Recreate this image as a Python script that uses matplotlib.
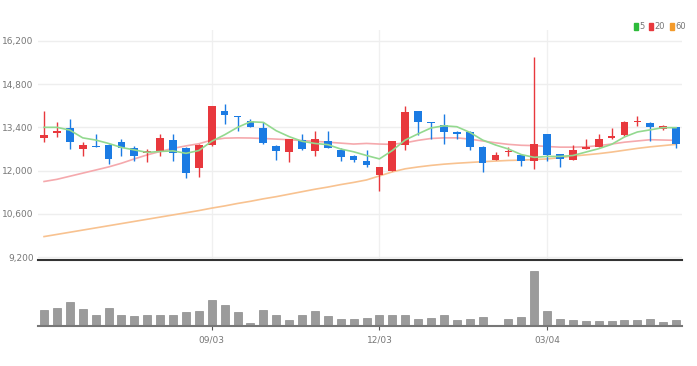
import numpy as np
import matplotlib.pyplot as plt
from matplotlib.patches import Patch

# weekly candles, red = up, blue = down
opens = [13050, 13210, 13380, 12700, 12810, 12830, 12940, 12720, 12560, 12610,
         12990, 12720, 12090, 12840, 13940, 13780, 13620, 13380, 12810, 12590,
         12990, 12630, 12970, 12670, 12490, 12320, 11870, 12000, 12830, 13920,
         13560, 13490, 13260, 13240, 12780, 12350, 12590, 12520, 12320, 13190,
         12540, 12350, 12700, 12780, 13050, 13160, 13570, 13530, 13350, 13400]
highs = [13940, 13560, 13670, 12920, 13190, 12860, 13020, 12810, 12700, 13190,
         13190, 12750, 12860, 14100, 14150, 13780, 13670, 13580, 12840, 13020,
         13190, 13290, 13290, 12730, 12520, 12670, 12110, 12970, 14100, 13940,
         13560, 13830, 13270, 13270, 12810, 12590, 12780, 12520, 15670, 13190,
         12540, 12820, 13020, 13190, 13380, 13620, 13760, 13580, 13490, 13420]
lows = [12920, 13080, 12700, 12490, 12750, 12220, 12490, 12300, 12270, 12490,
        12320, 11760, 11810, 12810, 13510, 13270, 13400, 12860, 12350, 12270,
        12670, 12490, 12730, 12300, 12270, 12110, 11350, 12000, 12670, 13160,
        13020, 12860, 13020, 12670, 11950, 12350, 12490, 12160, 12050, 12320,
        12110, 12350, 12700, 12750, 13020, 13130, 13450, 12970, 13330, 12730]
closes = [13150, 13290, 12940, 12830, 12760, 12380, 12730, 12490, 12630, 13050,
          12560, 11910, 12830, 14080, 13810, 13720, 13400, 12880, 12630, 13020,
          12700, 13020, 12730, 12430, 12360, 12190, 12110, 12950, 13890, 13560,
          13530, 13260, 13190, 12780, 12240, 12510, 12630, 12320, 12860, 12520,
          12380, 12680, 12750, 13020, 13120, 13560, 13610, 13420, 13450, 12860]
volumes = [49, 54, 72, 52, 34, 54, 34, 29, 34, 34,
           34, 42, 44, 79, 64, 42, 9, 47, 34, 17,
           34, 44, 29, 22, 22, 24, 32, 32, 34, 22,
           24, 34, 17, 22, 27, 2, 22, 27, 164, 44,
           22, 17, 14, 14, 14, 17, 17, 22, 12, 19]

# moving averages as shown on the chart
ma5 = [13400, 13400, 13310, 13060, 12990, 12880, 12750, 12670, 12590, 12620,
       12640, 12560, 12650, 12950, 13160, 13400, 13580, 13560, 13290, 13100,
       12950, 12880, 12840, 12700, 12610, 12490, 12380, 12650, 12990, 13190,
       13380, 13450, 13420, 13240, 12990, 12830, 12700, 12520, 12430, 12460,
       12460, 12490, 12600, 12710, 12850, 13090, 13250, 13320, 13390, 13390]
ma20 = [11650, 11720, 11820, 11920, 12020, 12120, 12240, 12380, 12510, 12620,
        12720, 12800, 12870, 12990, 13050, 13060, 13055, 13040, 13020, 13000,
        12970, 12950, 12920, 12890, 12860, 12880, 12860, 12850, 12900, 12980,
        13040, 13060, 13060, 13020, 12960, 12900, 12850, 12820, 12810, 12780,
        12760, 12760, 12770, 12810, 12860, 12920, 12960, 13000, 12990, 12980]
ma60 = [9870, 9940, 10010, 10080, 10150, 10220, 10290, 10360, 10430, 10500,
        10570, 10640, 10710, 10790, 10860, 10940, 11010, 11090, 11160, 11240,
        11320, 11400, 11470, 11550, 11620, 11700, 11830, 11960, 12060, 12120,
        12170, 12210, 12240, 12265, 12290, 12310, 12330, 12340, 12360, 12380,
        12420, 12470, 12510, 12550, 12600, 12660, 12720, 12770, 12810, 12850]

tick_idx = [13, 26, 39]
tick_labels = ['09/03', '12/03', '03/04']
y_ticks = [9200, 10600, 12000, 13400, 14800, 16200]

up_color = '#e8383d'
down_color = '#1b7be3'
font = ['Liberation Sans Narrow', 'DejaVu Sans']

fig = plt.figure(figsize=(6.97, 3.66), dpi=100)
ax = fig.add_axes([0.0545, 0.2885, 0.924, 0.6295])
axv = fig.add_axes([0.0545, 0.1093, 0.924, 0.1749], sharex=ax)

x = np.arange(len(opens))
o = np.array(opens)
c = np.array(closes)
up = c >= o
colors = np.where(up, up_color, down_color)

ax.vlines(x, lows, highs, colors=colors, linewidth=1, zorder=3)
body = np.maximum(np.abs(c - o), 25)
ax.bar(x, body, bottom=np.minimum(o, c), width=0.6, color=colors, zorder=4)

ax.plot(x, ma60, color='#f8c290', linewidth=1.2, zorder=2)
ax.plot(x, ma20, color='#f5a9ad', linewidth=1.2, zorder=2)
ax.plot(x, ma5, color='#93d98f', linewidth=1.2, zorder=5)

ax.set_xlim(-0.47, 49.46)
ax.set_ylim(9100, 16545)
ax.set_yticks(y_ticks)
ax.set_yticklabels([f'{v:,}' for v in y_ticks], family=font, fontsize=6.5, color='#777777')
ax.grid(axis='y', color='#eeeeee', linewidth=1)
for t in tick_idx:
    ax.axvline(t, color='#f0f0f0', linewidth=1, zorder=0)
ax.tick_params(axis='y', length=0, pad=3)
ax.tick_params(axis='x', length=0, labelbottom=False)
for s in ['top', 'right', 'left']:
    ax.spines[s].set_visible(False)
ax.spines['bottom'].set_color('#333333')
ax.spines['bottom'].set_linewidth(1.5)

# volume panel
axv.bar(x, volumes, width=0.62, color='#9b9b9b', edgecolor='#8a8a8a', linewidth=0.5)
axv.set_ylim(0, 192)
axv.set_yticks([])
axv.set_xticks(tick_idx)
axv.set_xticklabels(tick_labels, family=font, fontsize=6.5, color='#777777')
axv.tick_params(axis='x', length=3, color='#555555', pad=4)
for s in ['top', 'right', 'left']:
    axv.spines[s].set_visible(False)
axv.spines['bottom'].set_color('#777777')
axv.spines['bottom'].set_linewidth(1.5)

handles = [Patch(color='#2dbb3a', label='5'),
           Patch(color='#e8383d', label='20'),
           Patch(color='#f39a2b', label='60')]
fig.legend(handles=handles, loc='upper right', bbox_to_anchor=(0.995, 0.96), ncol=3,
           frameon=False, handlelength=0.5, handleheight=0.9, handletextpad=0.2,
           columnspacing=0.5, prop={'family': font, 'size': 6}, labelcolor='#777777')

plt.savefig('out.png', dpi=100)
